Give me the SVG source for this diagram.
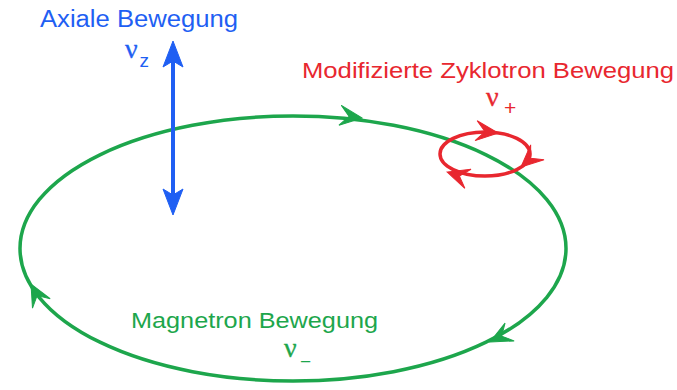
<svg xmlns="http://www.w3.org/2000/svg" width="677" height="390" viewBox="0 0 677 390">
<style>
.lbl{font-family:"Liberation Sans",Arial,sans-serif;font-size:22px}
.nu{font-family:"Liberation Serif","Times New Roman",serif;font-size:28px;stroke-width:0.35}
.sub{font-family:"Liberation Sans",Arial,sans-serif;font-size:19px;stroke-width:0}
.g{fill:#1da64c;stroke:#1da64c}.gs{stroke:#1da64c;fill:none;stroke-width:3.5}
.b{fill:#1f5ff3;stroke:#1f5ff3}.bs{stroke:#1f5ff3;fill:none;stroke-width:4}
.r{fill:#e8272f;stroke:#e8272f}.rs{stroke:#e8272f;fill:none;stroke-width:3.5}
.lbl.g,.lbl.b,.lbl.r{stroke:none}
use{stroke:none}
</style>
<defs>
<path id="ah" d="M0,0 L-22,-10 L-13,0 L-22,10 Z"/>
<path id="bah" d="M0,0 L-26,-10 L-20,0 L-26,10 Z"/>
</defs>
<g id="connectors">
<g id="magnetron-orbit">
<ellipse class="gs" cx="293" cy="248.5" rx="273" ry="132.5"/>
<use href="#ah" class="g" transform="translate(362,118) rotate(7)"/>
<use href="#ah" class="g" transform="translate(490,342) rotate(153)"/>
<use href="#ah" class="g" transform="translate(31,284) rotate(-118)"/>
</g>
<g id="axial-arrow">
<line class="bs" x1="173" y1="58" x2="173" y2="198"/>
<use href="#bah" class="b" transform="translate(173,41) rotate(-90)"/>
<use href="#bah" class="b" transform="translate(173,215) rotate(90)"/>
</g>
<g id="cyclotron-orbit">
<ellipse class="rs" cx="485" cy="154" rx="45" ry="22"/>
<use href="#ah" class="r" transform="translate(498,133) rotate(6)"/>
<use href="#ah" class="r" transform="translate(521,167) rotate(138)"/>
<use href="#ah" class="r" transform="translate(447,172) rotate(198)"/>
</g>
</g>
<g id="axial-label">
<text class="lbl b" x="40" y="27" style="font-size:23px" textLength="198" lengthAdjust="spacingAndGlyphs">Axiale Bewegung</text>
<text class="nu b" x="125" y="58">ν<tspan class="sub" x="139.5" y="67">z</tspan></text>
</g>
<g id="cyclotron-label">
<text class="lbl r" x="302" y="78" textLength="372" lengthAdjust="spacingAndGlyphs">Modifizierte Zyklotron Bewegung</text>
<text class="nu r" x="486" y="106">ν<tspan class="sub" x="504" y="115" style="font-size:21px">+</tspan></text>
</g>
<g id="magnetron-label">
<text class="lbl g" x="131" y="328" textLength="247" lengthAdjust="spacingAndGlyphs">Magnetron Bewegung</text>
<text class="nu g" x="284" y="357">ν<tspan class="sub" x="300" y="368">−</tspan></text>
</g>
</svg>
